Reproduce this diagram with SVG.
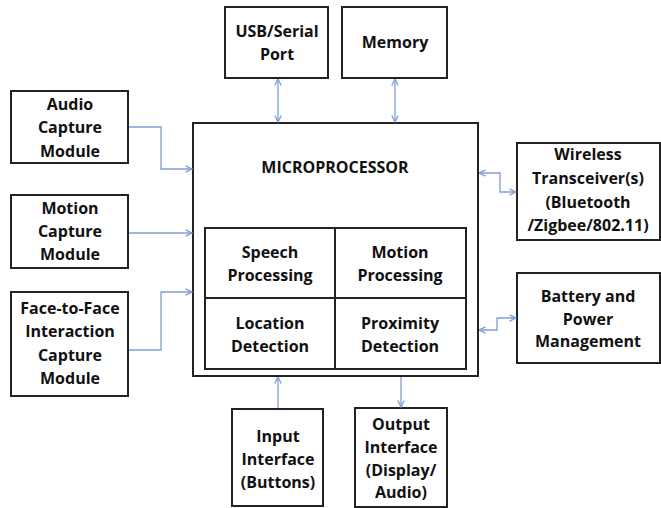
<svg xmlns="http://www.w3.org/2000/svg" width="661" height="508" viewBox="0 0 661 508">
<style>
.box{fill:#fff;stroke:#222;stroke-width:2}
.t{font-family:"Open Sans","Liberation Sans",sans-serif;font-weight:bold;font-size:16px;fill:#111;text-anchor:middle}
.c{fill:none;stroke:#7c9fd2;stroke-width:1.3}
</style>
<defs>
<marker id="ah" viewBox="0 0 8 8" refX="7.5" refY="4" markerWidth="8" markerHeight="8" markerUnits="userSpaceOnUse" orient="auto-start-reverse">
<path d="M1,0.8 L7.5,4 L1,7.2" fill="none" stroke="#7c9fd2" stroke-width="1.3"/>
</marker>
</defs>
<rect width="661" height="508" fill="#fff"/>
<g id="usb"><rect class="box" x="225" y="7" width="103" height="71"/><text class="t" x="277" y="37">USB/Serial</text><text class="t" x="277" y="60">Port</text></g>
<g id="memory"><rect class="box" x="342" y="7" width="105" height="71"/><text class="t" x="395" y="48">Memory</text></g>
<g id="audio"><rect class="box" x="11" y="91" width="117" height="72"/><text class="t" x="70" y="110">Audio</text><text class="t" x="70" y="133">Capture</text><text class="t" x="70" y="157">Module</text></g>
<g id="motion"><rect class="box" x="11" y="195" width="117" height="73"/><text class="t" x="70" y="214">Motion</text><text class="t" x="70" y="237">Capture</text><text class="t" x="70" y="260">Module</text></g>
<g id="face"><rect class="box" x="11" y="292" width="117" height="104"/><text class="t" x="70" y="314">Face-to-Face</text><text class="t" x="70" y="337">Interaction</text><text class="t" x="70" y="361">Capture</text><text class="t" x="70" y="384">Module</text></g>
<g id="microprocessor"><rect class="box" x="193" y="123" width="285" height="253"/><text class="t" x="335" y="173">MICROPROCESSOR</text>
<rect class="box" x="205" y="228" width="261" height="141"/>
<line x1="335" y1="228" x2="335" y2="369" stroke="#222" stroke-width="2"/>
<line x1="205" y1="298" x2="466" y2="298" stroke="#222" stroke-width="2"/>
</g>
<g id="speech"><text class="t" x="270" y="258">Speech</text><text class="t" x="270" y="281">Processing</text></g>
<g id="motionproc"><text class="t" x="400" y="258">Motion</text><text class="t" x="400" y="281">Processing</text></g>
<g id="location"><text class="t" x="270" y="329">Location</text><text class="t" x="270" y="352">Detection</text></g>
<g id="proximity"><text class="t" x="400" y="329">Proximity</text><text class="t" x="400" y="352">Detection</text></g>
<g id="wireless"><rect class="box" x="517" y="143" width="143" height="97"/><text class="t" x="588" y="160">Wireless</text><text class="t" x="588" y="184">Transceiver(s)</text><text class="t" x="588" y="208">(Bluetooth</text><text class="t" x="588" y="231">/Zigbee/802.11)</text></g>
<g id="battery"><rect class="box" x="517" y="273" width="143" height="90"/><text class="t" x="588" y="302">Battery and</text><text class="t" x="588" y="325">Power</text><text class="t" x="588" y="347">Management</text></g>
<g id="input"><rect class="box" x="232" y="409" width="91" height="97"/><text class="t" x="278" y="442">Input</text><text class="t" x="278" y="465">Interface</text><text class="t" x="278" y="488">(Buttons)</text></g>
<g id="output"><rect class="box" x="355" y="408" width="92" height="99"/><text class="t" x="401" y="430">Output</text><text class="t" x="401" y="453">Interface</text><text class="t" x="401" y="476">(Display/</text><text class="t" x="401" y="498">Audio)</text></g>
<g id="connectors">
<path class="c" d="M278,79 V122" marker-start="url(#ah)" marker-end="url(#ah)"/>
<path class="c" d="M395,79 V122" marker-start="url(#ah)" marker-end="url(#ah)"/>
<path class="c" d="M129,127 H161 V169 H192" marker-end="url(#ah)"/>
<path class="c" d="M129,233 H192" marker-end="url(#ah)"/>
<path class="c" d="M129,350 H161 V292 H192" marker-end="url(#ah)"/>
<path class="c" d="M479,173 H500 V192 H516" marker-start="url(#ah)" marker-end="url(#ah)"/>
<path class="c" d="M479,330 H497 V318 H516" marker-start="url(#ah)" marker-end="url(#ah)"/>
<path class="c" d="M278,408 V377" marker-end="url(#ah)"/>
<path class="c" d="M401,377 V407" marker-end="url(#ah)"/>
</g>
</svg>
